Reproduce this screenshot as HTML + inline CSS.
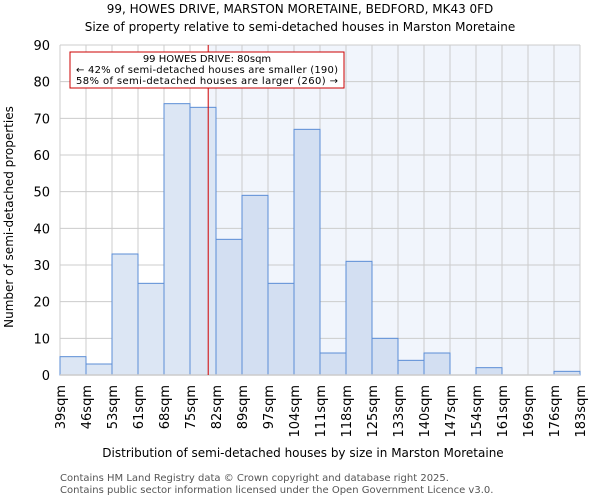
<!DOCTYPE html>
<html><head><meta charset="utf-8"><style>
body{margin:0;background:#fff;font-family:"DejaVu Sans","Liberation Sans",sans-serif;}
</style></head><body>
<svg id="chart" width="600" height="500" xmlns="http://www.w3.org/2000/svg" font-family="DejaVu Sans, Liberation Sans, sans-serif">
<text x="300" y="13" text-anchor="middle" font-size="12">99, HOWES DRIVE, MARSTON MORETAINE, BEDFORD, MK43 0FD</text>
<text x="300" y="31" text-anchor="middle" font-size="12">Size of property relative to semi-detached houses in Marston Moretaine</text>
<g id="plot"></g>
<text x="303" y="457" text-anchor="middle" font-size="12">Distribution of semi-detached houses by size in Marston Moretaine</text>
<text transform="translate(13,217) rotate(-90)" text-anchor="middle" font-size="12">Number of semi-detached properties</text>
<text x="60" y="481" font-size="10" fill="#555">Contains HM Land Registry data © Crown copyright and database right 2025.</text>
<text x="60" y="493" font-size="10" fill="#555">Contains public sector information licensed under the Open Government Licence v3.0.</text>
</svg>
<script>
const categories=["39sqm","46sqm","53sqm","61sqm","68sqm","75sqm","82sqm","89sqm","97sqm","104sqm","111sqm","118sqm","125sqm","133sqm","140sqm","147sqm","154sqm","161sqm","169sqm","176sqm","183sqm"];
const counts=[5,3,33,25,74,73,37,49,25,67,6,31,10,4,6,0,2,0,0,1];
const yTicks=[0,10,20,30,40,50,60,70,80,90];
const propertyIndex=5.7;
const L=60,R=580,T=45,B=375,YMAX=90;
const NS="http://www.w3.org/2000/svg";
const g=document.getElementById('plot');
const xs=i=>L+(R-L)*i/counts.length;
const ys=v=>B-(B-T)*v/YMAX;
function mk(tag,attrs,parent){const e=document.createElementNS(NS,tag);for(const k in attrs)e.setAttribute(k,attrs[k]);(parent||g).appendChild(e);return e;}
const px=xs(propertyIndex);
let e=mk('rect',{x:px,y:T,width:R-px,height:B-T,fill:'#f1f5fc'});


for(let i=0;i<categories.length;i++){e=mk('line',{x1:xs(i),x2:xs(i),y1:T,y2:B,stroke:'#cccccc','stroke-width':1});

}
yTicks.forEach(v=>{e=mk('line',{x1:L,x2:R,y1:ys(v),y2:ys(v),stroke:'#cccccc','stroke-width':1});


e=mk('text',{x:L-10,y:ys(v)+5,'text-anchor':'end','font-size':13});
e.textContent=v;

});
counts.forEach((c,i)=>{if(c<=0)return;
e=mk('rect',{x:xs(i),y:ys(c),width:xs(i+1)-xs(i),height:B-ys(c),fill:i<propertyIndex?'#dce6f4':'#d3dff2',stroke:'#5b8dd6','stroke-width':1});

});
e=mk('line',{x1:L,x2:R,y1:B,y2:B,stroke:'#cccccc','stroke-width':1.5});


categories.forEach((c,i)=>{e=mk('text',{transform:`translate(${xs(i)+5},${B+10}) rotate(-90)`,'text-anchor':'end','font-size':13});
e.textContent=c;

});
e=mk('line',{x1:px,x2:px,y1:T,y2:B,stroke:'#d00000','stroke-width':1});


e=mk('rect',{x:70,y:52,width:274,height:36,fill:'#fff',stroke:'#cc0000','stroke-width':1});


["99 HOWES DRIVE: 80sqm","← 42% of semi-detached houses are smaller (190)","58% of semi-detached houses are larger (260) →"].forEach((t,k)=>{
e=mk('text',{x:207,y:62+k*11,'text-anchor':'middle','font-size':10,textLength:k?262:0});
if(!k)e.removeAttribute('textLength');
e.textContent=t;

});
</script>
</body></html>
